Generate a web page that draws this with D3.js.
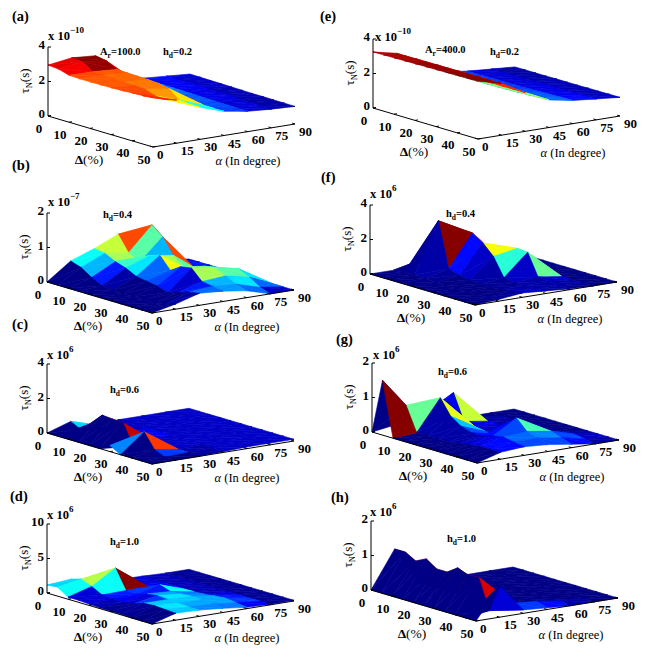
<!DOCTYPE html>
<html lang="en">
<head>
<meta charset="UTF-8">
<title>tau_N surfaces</title>
<script src="https://cdn.jsdelivr.net/npm/d3@7"></script>
<style>
  body { margin: 0; background: #fff; }
</style>
</head>
<body>
<script>
// grid of the surfaces
const deltaVals = [0, 5, 10, 15, 20, 25, 30, 35, 40, 45, 50];
const alphaVals = [0, 15, 30, 45, 60, 75, 90];
const deltaTicks = [0, 10, 20, 30, 40, 50];
const alphaTicks = [0, 15, 30, 45, 60, 75, 90];

// tau_N values, rows = Delta, cols = alpha (units given by the exponent label)
const zA = [
  [2.95, 3.15, 3.05, 1.60, 1.30, 1.20, 1.10],
  [2.90, 3.10, 2.95, 1.58, 1.28, 1.18, 1.09],
  [2.72, 2.70, 2.62, 1.55, 1.27, 1.17, 1.08],
  [2.70, 2.68, 2.60, 1.53, 1.26, 1.16, 1.07],
  [2.70, 2.66, 2.58, 1.50, 1.25, 1.15, 1.06],
  [2.71, 2.64, 2.56, 1.48, 1.24, 1.14, 1.05],
  [2.72, 2.62, 2.52, 1.46, 1.22, 1.12, 1.04],
  [2.74, 2.58, 2.40, 1.44, 1.21, 1.11, 1.04],
  [2.78, 2.38, 1.90, 1.42, 1.20, 1.10, 1.03],
  [2.80, 2.35, 1.85, 1.40, 1.19, 1.09, 1.03],
  [2.84, 2.50, 1.85, 1.40, 1.18, 1.08, 1.02]
];
const zB = [
  [0.00, 0.50, 0.75, 1.05, 1.00, 0.10, 0.00],
  [0.00, 0.40, 0.70, 0.60, 1.30, 0.20, 0.00],
  [0.00, 0.20, 0.55, 0.40, 1.05, 0.10, 0.00],
  [0.00, 0.05, 0.45, 0.70, 0.60, 0.05, 0.00],
  [0.00, 0.00, 0.30, 0.80, 0.35, 0.00, 0.00],
  [0.00, 0.00, 0.25, 0.45, 0.25, 0.00, 0.00],
  [0.00, 0.00, 0.20, 0.65, 0.55, 0.20, 0.00],
  [0.00, 0.00, 0.10, 0.70, 0.60, 0.45, 0.00],
  [0.00, 0.00, 0.20, 0.40, 0.45, 0.30, 0.00],
  [0.00, 0.05, 0.30, 0.35, 0.30, 0.10, 0.00],
  [0.00, 0.15, 0.35, 0.30, 0.20, 0.00, 0.00]
];
const zC = [
  [0.00, 0.45, 0.05, 0.10, 0.10, 0.10, 0.10],
  [0.00, 0.15, 0.10, 0.10, 0.10, 0.10, 0.10],
  [0.00, 0.70, 0.10, 0.10, 0.10, 0.10, 0.10],
  [0.00, 1.35, 0.15, 0.10, 0.10, 0.10, 0.10],
  [0.00, 1.30, 0.15, 0.10, 0.10, 0.10, 0.10],
  [0.00, 1.25, 0.10, 0.10, 0.10, 0.10, 0.10],
  [0.35, 0.10, 0.10, 0.10, 0.10, 0.10, 0.10],
  [0.00, 1.10, 0.10, 0.10, 0.10, 0.10, 0.10],
  [0.00, 0.25, 0.05, 0.10, 0.10, 0.10, 0.10],
  [0.00, 0.00, 0.05, 0.10, 0.10, 0.10, 0.10],
  [0.00, 0.00, 0.00, 0.05, 0.10, 0.10, 0.10]
];
const zD = [
  [1.15, 1.45, 0.40, 0.30, 0.20, 0.10, 0.10],
  [1.30, 1.90, 0.50, 0.30, 0.20, 0.10, 0.10],
  [0.30, 1.30, 3.40, 0.40, 0.20, 0.10, 0.10],
  [0.30, 0.50, 0.60, 0.50, 0.20, 0.10, 0.10],
  [0.20, 0.40, 0.50, 1.30, 0.20, 0.10, 0.10],
  [0.10, 0.30, 1.00, 0.80, 0.20, 0.10, 0.10],
  [0.10, 0.60, 1.20, 0.90, 0.30, 0.10, 0.10],
  [0.10, 1.10, 1.10, 1.00, 0.50, 0.10, 0.10],
  [0.00, 1.20, 1.00, 1.00, 0.60, 0.10, 0.10],
  [0.00, 1.10, 0.90, 0.80, 0.40, 0.10, 0.10],
  [0.00, 1.00, 0.90, 0.60, 0.20, 0.10, 0.10]
];
const zE = [
  [3.25, 2.95, 2.20, 1.45, 1.25, 1.15, 1.05],
  [3.26, 2.95, 2.20, 1.45, 1.25, 1.15, 1.05],
  [3.27, 2.96, 2.20, 1.46, 1.25, 1.15, 1.05],
  [3.28, 2.96, 2.21, 1.46, 1.26, 1.15, 1.05],
  [3.29, 2.97, 2.21, 1.47, 1.26, 1.16, 1.06],
  [3.30, 2.97, 2.22, 1.48, 1.27, 1.16, 1.06],
  [3.31, 2.98, 2.22, 1.50, 1.28, 1.17, 1.06],
  [3.32, 2.98, 2.23, 1.52, 1.30, 1.18, 1.07],
  [3.33, 2.99, 2.23, 1.55, 1.32, 1.19, 1.07],
  [3.34, 2.99, 2.24, 1.58, 1.34, 1.20, 1.08],
  [3.35, 3.00, 2.24, 1.60, 1.35, 1.21, 1.08]
];
const zF = [
  [0.00, 0.00, 0.30, 0.40, 0.05, 0.00, 0.00],
  [0.00, 0.05, 0.70, 0.50, 0.10, 0.00, 0.00],
  [0.00, 0.10, 3.00, 2.25, 0.20, 0.00, 0.00],
  [0.00, 0.05, 0.40, 2.25, 0.30, 0.00, 0.00],
  [0.00, 0.00, 0.20, 1.85, 0.50, 0.00, 0.00],
  [0.00, 0.00, 0.10, 1.25, 1.50, 0.00, 0.00],
  [0.00, 0.00, 0.05, 0.20, 1.45, 0.00, 0.00],
  [0.00, 0.00, 0.05, 0.10, 0.20, 0.00, 0.00],
  [0.00, 0.00, 0.10, 0.10, 0.10, 0.00, 0.00],
  [0.00, 0.05, 0.20, 0.10, 0.05, 0.00, 0.00],
  [0.00, 0.10, 0.25, 0.15, 0.05, 0.00, 0.00]
];
const zG = [
  [0.00, 0.10, 0.20, 0.10, 0.00, 0.00, 0.00],
  [1.59, 0.75, 0.15, 0.90, 0.05, 0.00, 0.00],
  [0.00, 0.05, 0.95, 0.15, 0.05, 0.00, 0.00],
  [0.00, 0.05, 0.50, 0.10, 0.05, 0.00, 0.00],
  [0.00, 0.05, 0.30, 0.05, 0.05, 0.00, 0.00],
  [0.00, 0.05, 0.20, 0.05, 0.05, 0.00, 0.00],
  [0.00, 0.10, 0.20, 0.10, 0.10, 0.00, 0.00],
  [0.00, 0.15, 0.30, 0.70, 0.25, 0.05, 0.00],
  [0.00, 0.20, 0.35, 0.40, 0.30, 0.10, 0.00],
  [0.00, 0.20, 0.30, 0.30, 0.20, 0.05, 0.00],
  [0.00, 0.20, 0.25, 0.20, 0.10, 0.00, 0.00]
];
const zH = [
  [0.00, 1.08, 0.00, 0.00, 0.00, 0.00, 0.00],
  [0.00, 1.08, 0.00, 0.00, 0.00, 0.00, 0.00],
  [0.00, 0.91, 0.00, 0.00, 0.00, 0.00, 0.00],
  [0.00, 1.06, 0.00, 0.00, 0.00, 0.00, 0.00],
  [0.00, 0.86, 0.00, 0.00, 0.00, 0.00, 0.00],
  [0.00, 0.86, 0.00, 0.00, 0.00, 0.00, 0.00],
  [0.00, 1.07, 0.00, 0.00, 0.00, 0.00, 0.00],
  [0.00, 0.95, 0.00, 0.00, 0.00, 0.00, 0.00],
  [0.00, 0.98, 0.05, 0.00, 0.00, 0.00, 0.00],
  [0.00, 0.10, 0.20, 0.15, 0.05, 0.00, 0.00],
  [0.00, 0.90, 0.10, 0.05, 0.00, 0.00, 0.00]
];

const panelNames = ['(a)', '(b)', '(c)', '(d)', '(e)', '(f)', '(g)', '(h)'];
const zData = [zA, zB, zC, zD, zE, zF, zG, zH];
const zLimits = [4, 2, 4, 10, 4, 4, 2, 2];
const zTickVals = [[0, 2, 4], [0, 1, 2], [0, 2, 4], [0, 5, 10], [0, 2, 4], [0, 2, 4], [0, 1, 2], [0, 1, 2]];
const zExponents = ['\u221210', '\u22127', '6', '6', '\u221210', '6', '6', '6'];
const hdLabels = ['0.2', '0.4', '0.6', '1.0', '0.2', '0.4', '0.6', '1.0'];
const arLabels = ['100.0', null, null, null, '400.0', null, null, null];

// placement of each panel: corner of the axes and text spots
const layout = [
  { ox: 48, oy: 116, tag: [12, 21], exp: [48, 40], hd: [163, 55], ar: [100, 55] },
  { ox: 47, oy: 282, tag: [12, 170], exp: [48, 206], hd: [103, 218] },
  { ox: 47, oy: 433, tag: [12, 329], exp: [47, 359], hd: [110, 393] },
  { ox: 47, oy: 593, tag: [10, 501], exp: [47, 519], hd: [110, 545] },
  { ox: 373, oy: 108, tag: [320, 21], exp: [375, 41], hd: [490, 55], ar: [425, 53] },
  { ox: 370, oy: 274, tag: [321, 182], exp: [370, 198], hd: [446, 217] },
  { ox: 372, oy: 432, tag: [336, 344], exp: [373, 359], hd: [438, 375] },
  { ox: 371, oy: 590, tag: [331, 502], exp: [370, 516], hd: [447, 542] }
];

const DV = [105, 31], AV = [142, -23], ZPX = 69, tanEl = 0.225;
const SERIF = "'Liberation Serif', 'Times New Roman', 'DejaVu Serif', serif";

function clamp(v) { return Math.max(0, Math.min(1, v)); }
function jet(t) {
  const r = clamp(1.5 - Math.abs(4 * t - 3));
  const g = clamp(1.5 - Math.abs(4 * t - 2));
  const b = clamp(1.5 - Math.abs(4 * t - 1));
  return d3.rgb(r * 255, g * 255, b * 255).formatHex();
}
const jet64 = d3.range(64).map(k => jet((k + 0.5) / 64));

const svg = d3.select('body').append('svg')
  .attr('width', 650).attr('height', 650)
  .attr('font-family', SERIF)
  .style('font-family', SERIF)
  .style('background', '#fff');

panelNames.forEach((name, p) => {
  const L = layout[p];
  const Z = zData[p];
  const g = svg.append('g');

  const sd = d3.scaleLinear().domain([0, 50]).range([0, 1]);
  const sa = d3.scaleLinear().domain([0, 90]).range([0, 1]);
  const sz = d3.scaleLinear().domain([0, zLimits[p]]).range([0, ZPX]);
  const color = d3.scaleQuantize().domain(d3.extent(Z.flat())).range(jet64);

  const proj = (d, a, z) => {
    const gx = sd(d) * DV[0] + sa(a) * AV[0];
    const gy = sd(d) * DV[1] + sa(a) * AV[1];
    return { x: L.ox + gx, y: L.oy + gy - sz(z), depth: gy / tanEl + sz(z) * tanEl };
  };
  const V = (i, j) => proj(deltaVals[i], alphaVals[j], Z[i][j]);

  // faceted surface, each cell split into two triangles, painted back to front
  const tris = [];
  for (let i = 0; i < deltaVals.length - 1; i++) {
    for (let j = 0; j < alphaVals.length - 1; j++) {
      const c = color(Z[i][j]);
      const v00 = V(i, j), v01 = V(i, j + 1), v10 = V(i + 1, j), v11 = V(i + 1, j + 1);
      [[v00, v01, v11], [v00, v11, v10]].forEach(pts => {
        tris.push({ pts, c, depth: d3.mean(pts, q => q.depth) });
      });
    }
  }
  tris.sort((a, b) => a.depth - b.depth);

  g.selectAll('path.face').data(tris).join('path')
    .attr('class', 'face')
    .attr('d', t => 'M' + t.pts.map(q => q.x.toFixed(2) + ',' + q.y.toFixed(2)).join('L') + 'Z')
    .attr('fill', t => t.c)
    .attr('stroke', t => t.c)
    .attr('stroke-width', 0.6)
    .attr('stroke-linejoin', 'round');

  // axes lines
  const o = proj(0, 0, 0), top = proj(0, 0, zLimits[p]);
  const front = proj(50, 0, 0), right = proj(50, 90, 0);
  const ax = g.append('g').attr('stroke', '#000').attr('stroke-width', 1).attr('fill', 'none');
  ax.append('line').attr('x1', o.x).attr('y1', o.y).attr('x2', top.x).attr('y2', top.y);
  ax.append('line').attr('x1', o.x).attr('y1', o.y).attr('x2', front.x).attr('y2', front.y);
  ax.append('line').attr('x1', front.x).attr('y1', front.y).attr('x2', right.x).attr('y2', right.y);

  const aLen = Math.hypot(AV[0], AV[1]), dLen = Math.hypot(DV[0], DV[1]);

  // z ticks
  zTickVals[p].forEach(t => {
    const q = proj(0, 0, t);
    ax.append('line').attr('x1', q.x).attr('y1', q.y).attr('x2', q.x + 3).attr('y2', q.y);
    g.append('text').attr('x', q.x - 3).attr('y', q.y + 2)
      .attr('text-anchor', 'end').attr('font-size', 13).attr('font-weight', 'bold').text(t);
  });
  // Delta ticks
  deltaTicks.forEach(t => {
    const q = proj(t, 0, 0);
    ax.append('line').attr('x1', q.x).attr('y1', q.y)
      .attr('x2', q.x + 3 * AV[0] / aLen).attr('y2', q.y + 3 * AV[1] / aLen);
    g.append('text').attr('x', q.x - 9).attr('y', q.y + 16.5)
      .attr('text-anchor', 'middle').attr('font-size', 13).attr('font-weight', 'bold').text(t);
  });
  // alpha ticks
  alphaTicks.forEach(t => {
    const q = proj(50, t, 0);
    ax.append('line').attr('x1', q.x).attr('y1', q.y)
      .attr('x2', q.x - 3 * DV[0] / dLen).attr('y2', q.y - 3 * DV[1] / dLen);
    g.append('text').attr('x', q.x + 4).attr('y', q.y + 12)
      .attr('text-anchor', 'start').attr('font-size', 13).attr('font-weight', 'bold').text(t);
  });

  // exponent label
  const ex = g.append('text').attr('x', L.exp[0]).attr('y', L.exp[1])
    .attr('font-size', 12.5).attr('font-weight', 'bold');
  ex.append('tspan').text('x 10');
  ex.append('tspan').attr('dy', -7).attr('font-size', 9).text(zExponents[p]);

  // z axis title
  const zt = g.append('text')
    .attr('transform', `translate(${L.ox - 19},${L.oy - 35}) rotate(-90)`)
    .attr('text-anchor', 'middle').attr('font-size', 13);
  zt.append('tspan').text('\u03c4');
  zt.append('tspan').attr('dy', 3).attr('font-size', 8.5).text('N');
  zt.append('tspan').attr('dy', -3).text('(s)');

  // Delta title
  const dt = g.append('text').attr('x', L.ox + 41).attr('y', L.oy + 48)
    .attr('text-anchor', 'middle').attr('font-size', 13.5);
  dt.append('tspan').attr('font-weight', 'bold').text('\u0394');
  dt.append('tspan').text('(%)');

  // alpha title
  const at = g.append('text').attr('x', L.ox + 200).attr('y', L.oy + 49)
    .attr('text-anchor', 'middle').attr('font-size', 12.5);
  at.append('tspan').attr('font-style', 'italic').text('\u03b1');
  at.append('tspan').text(' (In degree)');

  // parameter labels
  const hd = g.append('text').attr('x', L.hd[0]).attr('y', L.hd[1])
    .attr('font-size', 10.5).attr('font-weight', 'bold');
  hd.append('tspan').text('h');
  hd.append('tspan').attr('dy', 3).attr('font-size', 7.5).text('d');
  hd.append('tspan').attr('dy', -3).text('=' + hdLabels[p]);
  if (arLabels[p]) {
    const ar = g.append('text').attr('x', L.ar[0]).attr('y', L.ar[1])
      .attr('font-size', 10.5).attr('font-weight', 'bold');
    ar.append('tspan').text('A');
    ar.append('tspan').attr('dy', 3).attr('font-size', 7.5).text('r');
    ar.append('tspan').attr('dy', -3).text('=' + arLabels[p]);
  }

  // panel tag
  g.append('text').attr('x', L.tag[0]).attr('y', L.tag[1])
    .attr('font-size', 14.5).attr('font-weight', 'bold').text(name);
});
</script>
</body>
</html>
